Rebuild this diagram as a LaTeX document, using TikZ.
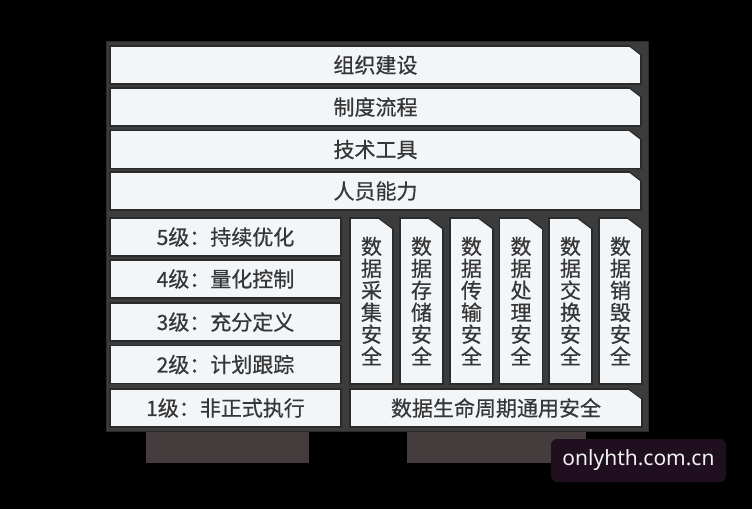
\documentclass[tikz,border=0pt]{standalone}
\usepackage{fontspec}
\newfontfamily\cjk[FakeBold=0.6]{Noto Sans CJK SC}
\setsansfont{Noto Sans}
\definecolor{framecol}{HTML}{3C3C3C}
\definecolor{boxline}{HTML}{2A2A2A}
\definecolor{boxfill}{HTML}{F3F6F9}
\definecolor{txt}{HTML}{363636}
\definecolor{legcol}{HTML}{453D3D}
\definecolor{markcol}{HTML}{1F0F1F}
\begin{document}
\begin{tikzpicture}[x=1pt, y=-1pt,
box node/.style={draw=boxline, fill=boxfill, line width=1.2pt, inner sep=0pt, text=txt, font=\cjk\fontsize{21}{22}\selectfont},
bar node/.style={box node, minimum width=531pt, minimum height=38pt},
level node/.style={box node, minimum width=231pt, minimum height=38pt},
stage node/.style={box node, minimum width=43pt, minimum height=166pt, align=center},
life node/.style={box node, minimum width=292pt, minimum height=38pt}]
\useasboundingbox[fill=black] (0,0) rectangle (752,509);
% frame and legs
\fill[legcol] (146,432) rectangle (309,463);
\fill[legcol] (407,432) rectangle (586,463);
\fill[framecol] (106,41) rectangle (648,431);
\draw[boxline, line width=1pt] (106,41) rectangle (648,431);
% top bars
\node[bar node] (org) at (375.5,65) {组织建设};
\node[bar node] (proc) at (375.5,107) {制度流程};
\node[bar node] (tool) at (375.5,149.5) {技术工具};
\node[bar node] (staff) at (375.5,191) {人员能力};
% levels
\node[level node] (lv5) at (225.5,237) {5级：持续优化};
\node[level node] (lv4) at (225.5,279) {4级：量化控制};
\node[level node] (lv3) at (225.5,322) {3级：充分定义};
\node[level node] (lv2) at (225.5,364.5) {2级：计划跟踪};
\node[level node] (lv1) at (225.5,408) {1级：非正式执行};
% lifecycle stages
\node[stage node] (collect) at (371.5,301) {数\\据\\采\\集\\安\\全};
\node[stage node] (store) at (421.5,301) {数\\据\\存\\储\\安\\全};
\node[stage node] (trans) at (471.5,301) {数\\据\\传\\输\\安\\全};
\node[stage node] (handle) at (521,301) {数\\据\\处\\理\\安\\全};
\node[stage node] (swap) at (570.5,301) {数\\据\\交\\换\\安\\全};
\node[stage node] (destroy) at (620.5,301) {数\\据\\销\\毁\\安\\全};
\node[life node] (life) at (496,408) {数据生命周期通用安全};
% cut corners
\foreach \n/\w/\h in {org/13/10, proc/13/10, tool/13/10, staff/13/10, life/15/11,
  collect/16/12, store/16/12, trans/16/12, handle/16/12, swap/16/12, destroy/16/12} {
  \fill[framecol] ([xshift=-\w pt]\n.north east) -- ([xshift=1pt,yshift=1pt]\n.north east) -- ([yshift=-\h pt]\n.north east) -- cycle;
  \draw[boxline, line width=1.2pt] ([xshift=-\w pt]\n.north east) -- ([yshift=-\h pt]\n.north east);
}
% watermark
\node[fill=markcol, rounded corners=6pt, minimum width=175pt, minimum height=43pt, text=white!90!gray, font=\sffamily\fontsize{21}{24}\selectfont] (mark) at (638.5,460.5) {onlyhth.com.cn};
\end{tikzpicture}
\end{document}
